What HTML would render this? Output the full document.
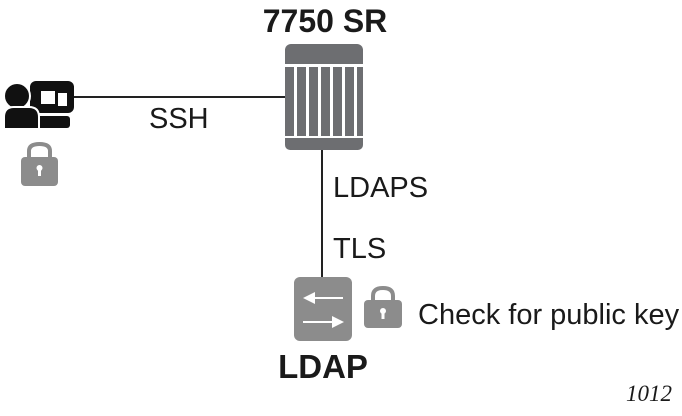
<!DOCTYPE html>
<html><head><meta charset="utf-8"><style>
html,body{margin:0;padding:0;background:#fff;width:682px;height:416px;overflow:hidden}
text{font-family:"Liberation Sans",sans-serif;fill:#1a1a1a}
</style></head><body>
<svg width="682" height="416" viewBox="0 0 682 416">
<line x1="73" y1="97" x2="286" y2="97" stroke="#222" stroke-width="2"/>
<line x1="322" y1="148" x2="322" y2="278" stroke="#222" stroke-width="2"/>
<!-- person -->
<rect x="30" y="81" width="44" height="32" rx="6" fill="#111"/>
<rect x="41" y="91" width="14" height="13" fill="#fff"/>
<rect x="58" y="93" width="9" height="13" fill="#fff"/>
<rect x="37" y="116" width="33" height="12" rx="3" fill="#111"/>
<circle cx="17" cy="96" r="13" fill="#111" stroke="#fff" stroke-width="2"/>
<path d="M4 129 V117 Q4 107 14 107 H29 Q39 107 39 117 V129 Z" fill="#111" stroke="#fff" stroke-width="2"/>
<!-- lock1 -->
<path d="M29 158 V151 Q29 144 39.5 144 Q50 144 50 151 V158" fill="none" stroke="#8c8c8c" stroke-width="4"/>
<rect x="21" y="157" width="37" height="29" rx="4" fill="#8c8c8c"/>
<circle cx="39.5" cy="168" r="3" fill="#fff"/><rect x="38" y="168" width="3" height="8" fill="#fff"/>
<!-- router -->
<text x="325" y="32" font-size="32" font-weight="bold" text-anchor="middle">7750 SR</text>
<rect x="285" y="44" width="78" height="20" rx="6" fill="#6d6e71"/>
<rect x="285" y="56" width="78" height="8" fill="#6d6e71"/>
<g fill="#6d6e71">
<rect x="285" y="67" width="9" height="69"/><rect x="297" y="67" width="9" height="69"/>
<rect x="309" y="67" width="9" height="69"/><rect x="321" y="67" width="9" height="69"/>
<rect x="333" y="67" width="9" height="69"/><rect x="345" y="67" width="9" height="69"/>
<rect x="357" y="67" width="6" height="69"/>
</g>
<rect x="285" y="138" width="78" height="12" rx="5" fill="#6d6e71"/>
<rect x="285" y="138" width="78" height="5" fill="#6d6e71"/>
<text x="149" y="128" font-size="29">SSH</text>
<text x="333" y="197" font-size="29">LDAPS</text>
<text x="333" y="258" font-size="29">TLS</text>
<!-- LDAP -->
<rect x="294" y="277" width="58" height="64" rx="6" fill="#8c8c8c"/>
<line x1="312" y1="298" x2="343" y2="298" stroke="#fff" stroke-width="2"/>
<polygon points="303,298 315,292 315,304" fill="#fff"/>
<line x1="303" y1="322" x2="334" y2="322" stroke="#fff" stroke-width="2"/>
<polygon points="344,322 332,316 332,328" fill="#fff"/>
<text x="323" y="378" font-size="33" font-weight="bold" text-anchor="middle">LDAP</text>
<path d="M373 302 V296 Q373 288 383 288 Q393 288 393 296 V302" fill="none" stroke="#8c8c8c" stroke-width="4"/>
<rect x="364" y="300" width="38" height="28" rx="4" fill="#8c8c8c"/>
<circle cx="383" cy="311" r="3" fill="#fff"/><rect x="381.5" y="311" width="3" height="8" fill="#fff"/>
<text x="418" y="324" font-size="29">Check for public key</text>
<text x="626" y="401" font-size="23" font-style="italic" style="font-family:'Liberation Serif',serif">1012</text>
</svg>
</body></html>
